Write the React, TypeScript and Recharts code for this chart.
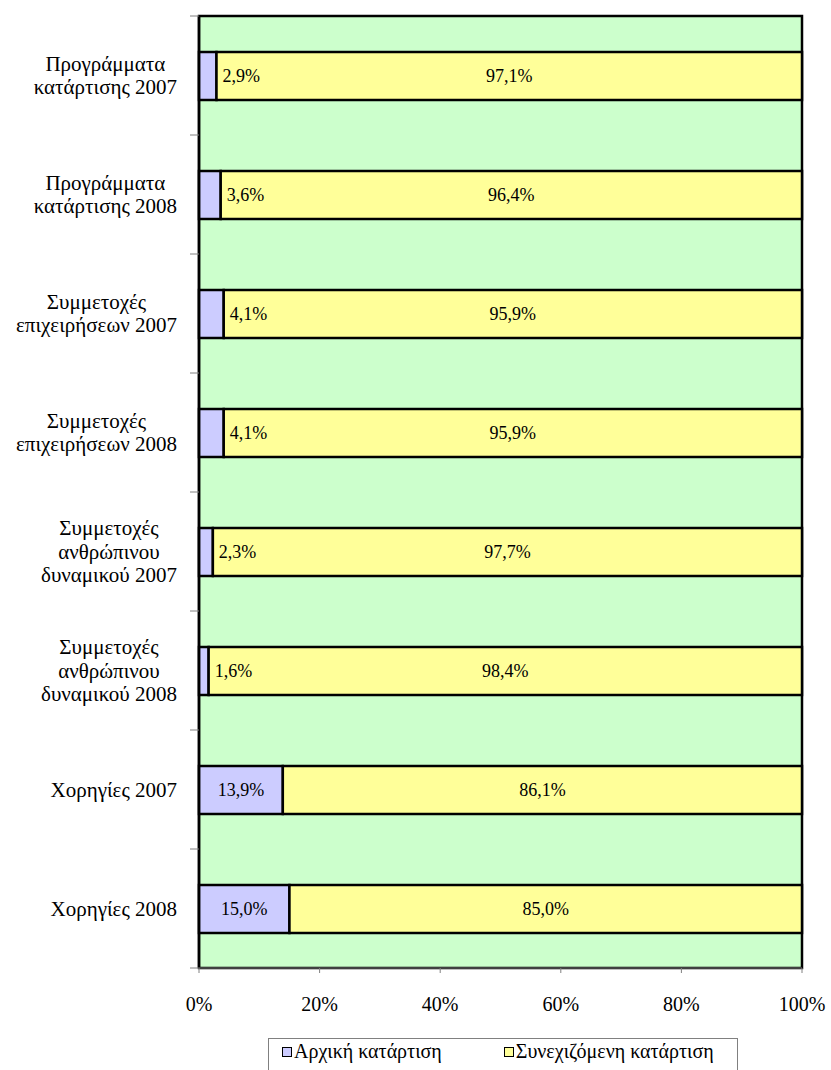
import { BarChart, Bar, XAxis, YAxis, CartesianGrid, ReferenceArea, LabelList } from 'recharts';

const categories = [
  'Προγράμματα\nκατάρτισης 2007',
  'Προγράμματα\nκατάρτισης 2008',
  'Συμμετοχές\nεπιχειρήσεων 2007',
  'Συμμετοχές\nεπιχειρήσεων 2008',
  'Συμμετοχές\nανθρώπινου\nδυναμικού 2007',
  'Συμμετοχές\nανθρώπινου\nδυναμικού 2008',
  'Χορηγίες 2007',
  'Χορηγίες 2008',
];
const initial = [2.9, 3.6, 4.1, 4.1, 2.3, 1.6, 13.9, 15.0];
const continuing = [97.1, 96.4, 95.9, 95.9, 97.7, 98.4, 86.1, 85.0];
const seriesNames = ['Αρχική κατάρτιση', 'Συνεχιζόμενη κατάρτιση'];
const xTicks = [0, 20, 40, 60, 80, 100];

const data = categories.map((name, i) => ({ name, initial: initial[i], continuing: continuing[i] }));

const FONT = 'Liberation Serif';
const FS_CAT = 21;
const FS_AXIS = 20;
const FS_LABEL = 18;
const BLUE = '#CCCCFF';
const YELLOW = '#FFFF99';
const GREEN = '#CCFFCC';

const W = 831;
const H = 1070;
const MARGIN = { top: 16, right: 29, left: 0, bottom: 62 };
const Y_AXIS_W = 199;
const X_AXIS_H = 40;
const PLOT_H = H - MARGIN.top - MARGIN.bottom - X_AXIS_H;
const BAND = PLOT_H / categories.length;

let ctx: CanvasRenderingContext2D | null = null;
function textWidth(s: string) {
  if (!ctx) ctx = document.createElement('canvas').getContext('2d');
  if (!ctx) return s.length * 9;
  ctx.font = `${FS_CAT}px "${FONT}"`;
  return ctx.measureText(s).width;
}

const fmt = (v: number) => v.toFixed(1).replace('.', ',') + '%';

function CategoryTick(props: any) {
  const { y, payload, index } = props;
  const axisX = MARGIN.left + Y_AXIS_W;
  const lines = String(payload.value).split('\n');
  const block = Math.max(...lines.map(textWidth));
  const cx = axisX - 22 - block / 2;
  const lh = 23.5;
  const y0 = y - ((lines.length - 1) * lh) / 2;
  const marks = [y - BAND / 2];
  if (index === categories.length - 1) marks.push(y + BAND / 2);
  return (
    <g>
      {marks.map((m, i) => (
        <line key={i} x1={axisX - 9} x2={axisX} y1={m} y2={m} stroke="#808080" />
      ))}
      <text x={cx} y={y0} textAnchor="middle" fontFamily={FONT} fontSize={FS_CAT} fill="#000">
        {lines.map((l, i) => (
          <tspan key={i} x={cx} y={y0 + i * lh} dominantBaseline="central">{l}</tspan>
        ))}
      </text>
    </g>
  );
}

function InitialLabel(props: any) {
  const { x, y, width, height, value } = props;
  const small = value < 10;
  return (
    <text
      x={small ? x + width + 6 : x + width / 2}
      y={y + height / 2}
      textAnchor={small ? 'start' : 'middle'}
      dominantBaseline="central"
      fontFamily={FONT}
      fontSize={FS_LABEL}
      fill="#000"
    >
      {fmt(value)}
    </text>
  );
}

function ContLabel(props: any) {
  const { x, y, width, height, value } = props;
  return (
    <text x={x + width / 2} y={y + height / 2} textAnchor="middle" dominantBaseline="central" fontFamily={FONT} fontSize={FS_LABEL} fill="#000">
      {fmt(value)}
    </text>
  );
}

export default function App() {
  const colors = [BLUE, YELLOW];
  return (
    <div style={{ position: 'absolute', left: 0, top: 0, width: W, height: H, background: '#fff', overflow: 'hidden' }}>
      <BarChart width={W} height={H} data={data} layout="vertical" margin={MARGIN}>
        <CartesianGrid horizontal={false} vertical={false} fill={GREEN} fillOpacity={1} />
        <YAxis
          type="category"
          dataKey="name"
          width={Y_AXIS_W}
          tickLine={false}
          axisLine={{ stroke: '#000', strokeWidth: 2.5 }}
          tick={<CategoryTick />}
          interval={0}
        />
        <XAxis
          type="number"
          domain={[0, 100]}
          ticks={xTicks}
          tickFormatter={(v) => `${v}%`}
          tickSize={5}
          tickLine={{ stroke: '#808080' }}
          axisLine={{ stroke: '#808080' }}
          height={X_AXIS_H}
          tick={{ fontFamily: FONT, fontSize: FS_AXIS, fill: '#000', dy: 22 }}
        />
        <Bar dataKey="initial" stackId="a" fill={BLUE} stroke="#000" strokeWidth={2.5} barSize={48} isAnimationActive={false}>
          <LabelList dataKey="initial" content={<InitialLabel />} />
        </Bar>
        <Bar dataKey="continuing" stackId="a" fill={YELLOW} stroke="#000" strokeWidth={2.5} barSize={48} isAnimationActive={false}>
          <LabelList dataKey="continuing" content={<ContLabel />} />
        </Bar>
        <ReferenceArea x1={0} x2={100} fill="none" stroke="#000" strokeWidth={2.5} ifOverflow="visible" />
      </BarChart>
      <div
        style={{
          position: 'absolute',
          left: 268,
          top: 1038,
          width: 470,
          height: 40,
          border: '1px solid #808080',
          display: 'flex',
          alignItems: 'flex-start',
          paddingTop: 1,
          boxSizing: 'border-box',
          fontFamily: FONT,
          fontSize: FS_AXIS,
          color: '#000',
        }}
      >
        {seriesNames.map((n, i) => (
          <div key={n} style={{ display: 'flex', alignItems: 'center', marginLeft: i === 0 ? 13 : 62 }}>
            <span style={{ display: 'inline-block', width: 8, height: 8, background: colors[i], border: '1.5px solid #000', marginRight: 2 }} />
            <span>{n}</span>
          </div>
        ))}
      </div>
    </div>
  );
}
